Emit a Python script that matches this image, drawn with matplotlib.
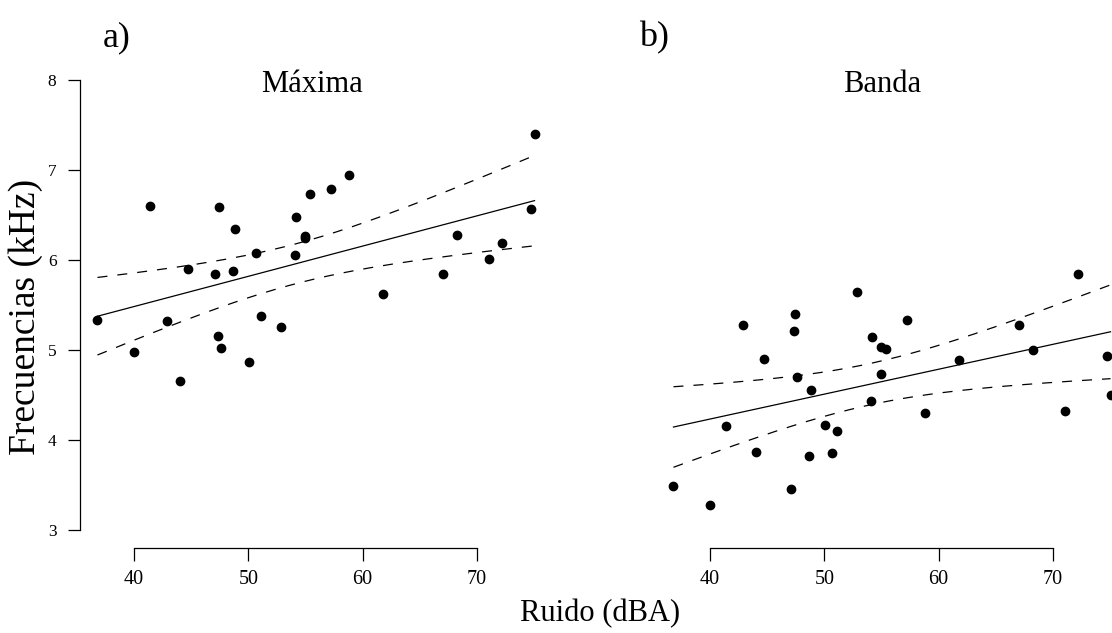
import numpy as np
import matplotlib
matplotlib.use("Agg")
import matplotlib.pyplot as plt

plt.rcParams['font.family'] = ['Liberation Serif', 'DejaVu Serif']

# ruido (dBA), comun a los dos paneles
ruido = [36.8, 40.0, 41.4, 42.85, 44.05, 44.7, 47.05, 47.35, 47.4, 47.65,
         48.65, 48.8, 50.08, 50.7, 51.1, 52.9, 54.08, 54.2, 54.95, 55.0,
         55.4, 57.24, 58.8, 61.8, 67.0, 68.3, 71.1, 72.2, 74.7, 75.05]
# frecuencia maxima (kHz)
maxima = [5.33, 4.98, 6.60, 5.32, 4.66, 5.90, 5.85, 5.16, 6.59, 5.02,
          5.88, 6.34, 4.87, 6.08, 5.38, 5.26, 6.05, 6.48, 6.27, 6.24,
          6.73, 6.79, 6.94, 5.62, 5.84, 6.28, 6.01, 6.19, 6.57, 7.40]
# ancho de banda (kHz)
banda = [3.49, 3.28, 4.16, 5.28, 3.87, 4.90, 3.46, 5.21, 5.40, 4.70,
         3.82, 4.56, 4.17, 3.86, 4.10, 5.64, 4.43, 5.14, 4.73, 5.03,
         5.01, 5.33, 4.30, 4.89, 5.28, 5.00, 4.32, 5.85, 4.93, 4.50]

x_ticks = [40, 50, 60, 70]
y_ticks = [3, 4, 5, 6, 7, 8]
T975 = 2.0484  # t(0.975, df=28)

W, H = 1112, 633
fig = plt.figure(figsize=(W / 100, H / 100), dpi=100)


def panel(ax, x, y):
  x = np.array(x)
  y = np.array(y)
  n = len(x)
  b, a = np.polyfit(x, y, 1)
  res = y - (a + b * x)
  s = np.sqrt(np.sum(res ** 2) / (n - 2))
  xs = np.linspace(x.min(), x.max(), 200)
  fit = a + b * xs
  se = s * np.sqrt(1 / n + (xs - x.mean()) ** 2 / np.sum((x - x.mean()) ** 2))
  ax.plot(x, y, 'o', color='black', markersize=6, zorder=3)
  ax.plot(xs, fit, '-', color='black', lw=0.9)
  ax.plot(xs, fit + T975 * se, color='black', lw=0.9, linestyle=(0, (8, 8)))
  ax.plot(xs, fit - T975 * se, color='black', lw=0.9, linestyle=(0, (8, 8)))
  rng = x.max() - x.min()
  ax.set_xlim(x.min() - 0.04 * rng, x.max() + 0.04 * rng)
  ax.set_ylim(2.8, 8.2)
  ax.spines['top'].set_visible(False)
  ax.spines['right'].set_visible(False)
  ax.spines['bottom'].set_bounds(40, 70)
  ax.set_xticks(x_ticks)
  ax.tick_params(axis='x', direction='out', length=9, width=0.9, pad=7, labelsize=14.5)
  for sp in ax.spines.values():
    sp.set_linewidth(0.9)


ax1 = fig.add_axes([80 / W, 85 / H, 472 / W, 486 / H])
panel(ax1, ruido, maxima)
ax1.spines['left'].set_bounds(3, 8)
ax1.set_yticks(y_ticks)
ax1.tick_params(axis='y', direction='out', length=9, width=0.9, pad=8, labelsize=12.5)

ax2 = fig.add_axes([656 / W, 85 / H, 472 / W, 486 / H])
panel(ax2, ruido, banda)
ax2.spines['left'].set_visible(False)
ax2.set_yticks([])

fig.text(312 / W, 1 - 92 / H, 'Máxima', ha='center', va='baseline', fontsize=22)
fig.text(882 / W, 1 - 92 / H, 'Banda', ha='center', va='baseline', fontsize=22)
fig.text(117 / W, 1 - 38 / H, 'a)', ha='center', va='center', fontsize=26)
fig.text(654 / W, 1 - 38 / H, 'b)', ha='center', va='center', fontsize=26)
fig.text(26 / W, 0.5, 'Frecuencias (kHz)', rotation=90, ha='center', va='center', fontsize=27)
fig.text(600 / W, 1 - 614 / H, 'Ruido (dBA)', ha='center', va='center', fontsize=22)

plt.savefig('out.png', dpi=100)
